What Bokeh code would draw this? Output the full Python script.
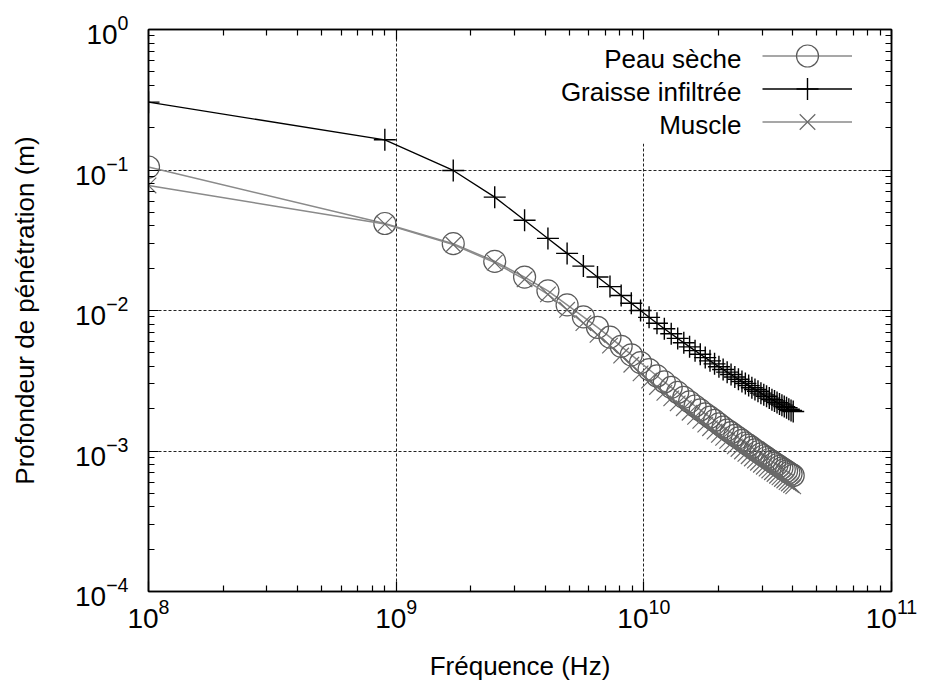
from bokeh.plotting import figure
from bokeh.models import (FixedTicker, LogAxis, Label, Legend, LegendItem,
                          BoxAnnotation, LogTickFormatter, CustomJSTickFormatter)
from bokeh.embed import file_html
from bokeh.resources import INLINE

# ---------------- data ----------------
freq_ghz = [0.1, 0.9, 1.7, 2.5, 3.3, 4.1, 4.9, 5.7, 6.5, 7.3, 8.1, 8.9, 9.7, 10.5,
            11.3, 12.1, 12.9, 13.7, 14.5, 15.3, 16.1, 16.9, 17.7, 18.5, 19.3, 20.1,
            20.9, 21.7, 22.5, 23.3, 24.1, 24.9, 25.7, 26.5, 27.3, 28.1, 28.9, 29.7,
            30.5, 31.3, 32.1, 32.9, 33.7, 34.5, 35.3, 36.1, 36.9, 37.7, 38.5, 39.3, 40.1]

peau_seche = [0.105, 0.0416, 0.0299, 0.0224, 0.0173, 0.0138, 0.01096, 0.00902, 0.00759,
              0.00646, 0.00556, 0.00484, 0.00426, 0.00380, 0.00342, 0.00310, 0.002835,
              0.00261, 0.00241, 0.00224, 0.00209, 0.00196, 0.00184, 0.00174, 0.00165,
              0.00156, 0.00148, 0.00141, 0.00135, 0.00129, 0.00124, 0.00119, 0.00114,
              0.00110, 0.00106, 0.00102, 0.000988, 0.000955, 0.000925, 0.000897, 0.000870,
              0.000845, 0.000821, 0.000798, 0.000777, 0.000757, 0.000738, 0.000720,
              0.000702, 0.000686, 0.000670]

graisse_infiltree = [0.304, 0.164, 0.0993, 0.0641, 0.0439, 0.0326, 0.0255, 0.0207, 0.0173,
                     0.0148, 0.0128, 0.01125, 0.0100, 0.00894, 0.00811, 0.00742, 0.00683,
                     0.00633, 0.00589, 0.00551, 0.00518, 0.00488, 0.00462, 0.00438, 0.00417,
                     0.00398, 0.00380, 0.00364, 0.00350, 0.00336, 0.00324, 0.00312, 0.00302,
                     0.00292, 0.00282, 0.00274, 0.00266, 0.00258, 0.00251, 0.00245, 0.00238,
                     0.00232, 0.00227, 0.00221, 0.00216, 0.00212, 0.00207, 0.00203, 0.00198,
                     0.00194, 0.00191]

muscle = [0.0776, 0.0412, 0.0295, 0.0219, 0.01667, 0.01303, 0.01012, 0.00813, 0.00671,
          0.00562, 0.00478, 0.00411, 0.00357, 0.00317, 0.002856, 0.002593, 0.002369,
          0.002181, 0.002016, 0.001874, 0.001749, 0.001639, 0.001541, 0.001453, 0.001375,
          0.001304, 0.001240, 0.001181, 0.001128, 0.001079, 0.001034, 0.000992, 0.000954,
          0.000918, 0.000885, 0.000854, 0.000825, 0.000798, 0.000773, 0.000749, 0.000727,
          0.000706, 0.000686, 0.000667, 0.000649, 0.000632, 0.000617, 0.000601, 0.000587,
          0.000573, 0.000560]

series_names = ["Peau sèche", "Graisse infiltrée", "Muscle"]
x_title = "Fréquence (Hz)"
y_title = "Profondeur de pénétration (m)"

x_major = [1e8, 1e9, 1e10, 1e11]
y_major = [1e-4, 1e-3, 1e-2, 1e-1, 1e0]
x_grid = [1e9, 1e10]
y_grid = [1e-3, 1e-2, 1e-1]

freq_hz = [f * 1e9 for f in freq_ghz]

# ---------------- figure ----------------
FONT = "Liberation Sans"
W, H = 925, 689
BL, BR, BT, BB = 148, 34, 29, 98
p = figure(width=W, height=H, x_axis_type="log", y_axis_type="log",
           x_range=(1e8, 1e11), y_range=(1e-4, 1e0),
           output_backend="svg", toolbar_location=None,
           min_border_left=BL, min_border_right=BR,
           min_border_top=BT, min_border_bottom=BB)
p.background_fill_color = "white"
p.border_fill_color = "white"
p.outline_line_color = "black"
p.outline_line_width = 1.5
frame_w = W - BL - BR
frame_h = H - BT - BB

def minors(majors):
    out = []
    for m in majors[:-1]:
        out += [m * k for k in range(2, 10)]
    return out

xt = FixedTicker(ticks=x_major, minor_ticks=minors(x_major))
yt = FixedTicker(ticks=y_major, minor_ticks=minors(y_major))

def style_axis(ax):
    ax.major_tick_in = 10
    ax.major_tick_out = 0
    ax.minor_tick_in = 6
    ax.minor_tick_out = 0
    ax.axis_line_color = "black"
    ax.axis_line_width = 1.5
    ax.major_tick_line_color = "black"
    ax.major_tick_line_width = 1.2
    ax.minor_tick_line_color = "black"
    ax.minor_tick_line_width = 1.2
    ax.major_label_text_font = FONT
    ax.major_label_text_color = "black"
    ax.major_label_text_font_size = "28px"

def style_title(ax):
    ax.axis_label_text_font = FONT
    ax.axis_label_text_font_size = "26px"
    ax.axis_label_text_font_style = "normal"
    ax.axis_label_text_color = "black"

for ax in p.xaxis:
    ax.ticker = xt
    ax.formatter = LogTickFormatter()
    style_axis(ax)
    style_title(ax)
    ax.major_label_standoff = 7
    ax.axis_label = x_title
    ax.axis_label_standoff = 20
for ax in p.yaxis:
    ax.ticker = yt
    ax.formatter = LogTickFormatter()
    style_axis(ax)
    style_title(ax)
    ax.major_label_standoff = 20
    ax.axis_label = y_title
    ax.axis_label_standoff = 32

blank = CustomJSTickFormatter(code="return ''")
top_ax = LogAxis(ticker=xt, formatter=blank)
style_axis(top_ax)
top_ax.major_label_standoff = 0
p.add_layout(top_ax, "above")
right_ax = LogAxis(ticker=yt, formatter=blank)
style_axis(right_ax)
right_ax.major_label_standoff = 0
p.add_layout(right_ax, "right")

p.xgrid.ticker = FixedTicker(ticks=x_grid)
p.ygrid.ticker = FixedTicker(ticks=y_grid)
for g in (p.xgrid[0], p.ygrid[0]):
    g.grid_line_color = "#222222"
    g.grid_line_width = 1
    g.grid_line_dash = "3 2"

# white area behind the key (hides the grid there)
p.add_layout(BoxAnnotation(left=390, right=740, top=frame_h - 5, bottom=frame_h - 114,
                           left_units="screen", right_units="screen",
                           top_units="screen", bottom_units="screen",
                           fill_color="white", fill_alpha=1.0, line_color=None,
                           level="underlay"))

# ---------------- series ----------------
grey_line = "#8a8a8a"
l1 = p.line(freq_hz, peau_seche, line_color=grey_line, line_width=1.5)
m1 = p.scatter(freq_hz, peau_seche, marker="circle", size=22, fill_color=None,
               line_color="#5a5a5a", line_width=1.2)
l2 = p.line(freq_hz, graisse_infiltree, line_color="black", line_width=1.3)
m2 = p.scatter(freq_hz, graisse_infiltree, marker="cross", size=22,
               line_color="black", line_width=1.4)
l3 = p.line(freq_hz, muscle, line_color=grey_line, line_width=1.5)
m3 = p.scatter(freq_hz, muscle, marker="x", size=22, line_color="#6a6a6a",
               line_width=1.2)

# ---------------- key (text left of sample, as in gnuplot) ----------------
rows = [(l1, m1), (l2, m2), (l3, m3)]
row_centers = [26, 59, 92]          # px below frame top
for (lr, mr), name, c in zip(rows, series_names, row_centers):
    lg = Legend(items=[LegendItem(label=" ", renderers=[lr, mr])],
                location=(614, frame_h - c - 27.5),
                glyph_width=90, glyph_height=55, padding=0, margin=0,
                spacing=0, label_standoff=0, label_width=0,
                label_text_font_size="10px",
                background_fill_alpha=0, border_line_color=None)
    p.add_layout(lg)
    p.add_layout(Label(x=593, y=frame_h - c - 3, x_units="screen", y_units="screen",
                       text=name, text_align="right", text_baseline="middle",
                       text_font=FONT, text_font_size="26px", text_color="black"))

open("out.html", "w").write(file_html(p, INLINE))
